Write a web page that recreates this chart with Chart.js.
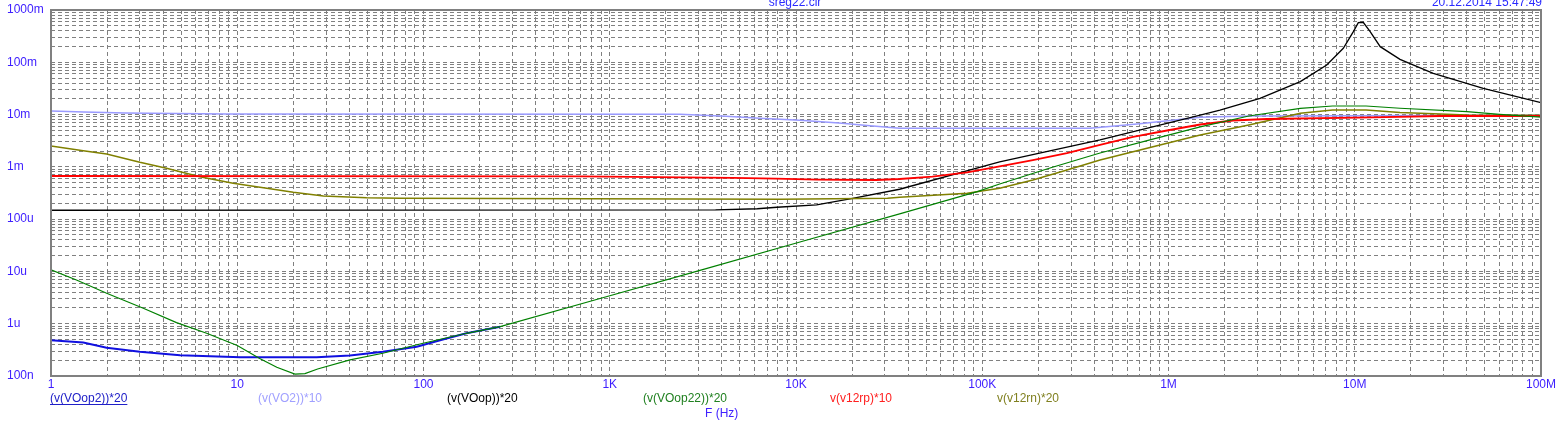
<!DOCTYPE html>
<html>
<head>
<meta charset="utf-8">
<script src="https://cdn.jsdelivr.net/npm/chart.js@4.4.1/dist/chart.umd.min.js"></script>
<style>
  html, body { margin: 0; padding: 0; background: #fff; }
  canvas { display: block; }
</style>
</head>
<body>
<canvas id="chart" width="1566" height="423"></canvas>
<script>
// axis labels (decades)
const xTickLabels = ['1', '10', '100', '1K', '10K', '100K', '1M', '10M', '100M'];
const yTickLabels = ['100n', '1u', '10u', '100u', '1m', '10m', '100m', '1000m'];

const seriesNames = ['(v(VOop2))*20', '(v(VO2))*10', '(v(VOop))*20', '(v(VOop22))*20', 'v(v12rp)*10', 'v(v12rn)*20'];

// (v(VOop2))*20
const voop2F = [1, 1.49, 1.99, 3.0, 4.93, 10.4, 26.7, 40.3, 60.5, 92, 127, 170, 258];
const voop2V = [483e-9, 435e-9, 348e-9, 292e-9, 249e-9, 229e-9, 229e-9, 247e-9, 292e-9, 364e-9, 500e-9, 656e-9, 877e-9];

// (v(VO2))*10
const vo2F = [1, 1.5, 2.5, 8.8, 2380, 4200, 6400, 10500, 17000, 25000, 36000, 124000, 379000, 700000, 1.48e6, 2.7e6, 1e8];
const vo2V = [11.7e-3, 11.2e-3, 10.7e-3, 10.2e-3, 10.1e-3, 9.3e-3, 8.5e-3, 7.8e-3, 6.9e-3, 6.1e-3, 5.5e-3, 5.5e-3, 5.5e-3, 6.7e-3, 8.9e-3, 9.4e-3, 9.7e-3];

// (v(VOop))*20
const voopF = [1, 3700, 6200, 7900, 12900, 19500, 36000, 124000, 429000, 1.48e6, 1.89e6, 3.1e6, 5.1e6, 7.07e6, 8.68e6, 9.83e6, 10.45e6, 11.1e6, 12.1e6, 13.7e6, 17.5e6, 26.4e6, 49e6, 1e8];
const voopV = [148e-6, 150e-6, 158e-6, 169e-6, 187e-6, 243e-6, 373e-6, 1.24e-3, 3.27e-3, 9.8e-3, 12.2e-3, 20.5e-3, 42.6e-3, 88.7e-3, 185e-3, 385e-3, 572e-3, 582e-3, 385e-3, 199e-3, 114e-3, 61.5e-3, 31.8e-3, 16.9e-3];

// (v(VOop22))*20
const voop22F = [1, 1.37, 1.99, 3.13, 4.72, 6.85, 10, 13.2, 16.3, 20.4, 23.1, 27, 40.3, 60.5, 99.5, 170, 258, 887, 3050, 10500, 36000, 94000, 124000, 231000, 429000, 795000, 1.48e6, 2.7e6, 5.1e6, 7.6e6, 11.5e6, 17.5e6, 40e6, 60e6, 1e8];
const voop22V = [10.7e-6, 6.87e-6, 3.82e-6, 1.97e-6, 1.05e-6, 656e-9, 384e-9, 216e-9, 147e-9, 109e-9, 111e-9, 136e-9, 203e-9, 272e-9, 423e-9, 656e-9, 877e-9, 3.04e-6, 10.5e-6, 36.6e-6, 126e-6, 336e-6, 470e-6, 951e-6, 1.84e-3, 3.27e-3, 5.8e-3, 9.4e-3, 13.1e-3, 14.6e-3, 14.6e-3, 13.2e-3, 11.4e-3, 10.1e-3, 8.9e-3];

// v(v12rp)*10
const v12rpF = [1, 700, 4600, 7800, 13000, 27000, 36000, 54000, 83000, 124000, 187000, 285000, 429000, 645000, 982000, 1.48e6, 2.22e6, 3.38e6, 12.5e6, 28.7e6, 1e8];
const v12rpV = [669e-6, 659e-6, 615e-6, 595e-6, 570e-6, 560e-6, 586e-6, 649e-6, 787e-6, 1.02e-3, 1.35e-3, 1.84e-3, 2.62e-3, 3.73e-3, 4.96e-3, 6.46e-3, 7.7e-3, 8.23e-3, 8.87e-3, 9.4e-3, 9.4e-3];

// v(v12rn)*20
const v12rnF = [1, 1.49, 1.99, 3.0, 4.17, 6.3, 9.5, 14.4, 20, 29, 49.5, 75, 8200, 31000, 36000, 83000, 124000, 187000, 285000, 429000, 645000, 982000, 1.48e6, 2.7e6, 5.1e6, 7.6e6, 11.5e6, 17.5e6, 40e6, 1e8];
const v12rnV = [2.51e-3, 2.04e-3, 1.76e-3, 1.22e-3, 939e-6, 649e-6, 485e-6, 389e-6, 326e-6, 277e-6, 257e-6, 251e-6, 240e-6, 251e-6, 262e-6, 312e-6, 389e-6, 561e-6, 871e-6, 1.35e-3, 1.95e-3, 2.82e-3, 4.07e-3, 6.32e-3, 10.6e-3, 12.2e-3, 12.2e-3, 10.9e-3, 9.8e-3, 9.7e-3];

const FONT = '"Liberation Sans", Arial, sans-serif';
const AXIS_TEXT = '#3f20ff';
const GRID = '#808080';

const pts = (f, v) => f.map((x, i) => ({ x: x, y: v[i] }));

// 1..9 per decade, name only on the decade line
function logTicks(fromExp, toExp, labels) {
    const t = [];
    for (let e = fromExp; e <= toExp; e++) {
        for (let k = 1; k <= 9; k++) {
            if (e === toExp && k > 1) break;
            t.push({ value: k * Math.pow(10, e), name: k === 1 ? labels[e - fromExp] : '' });
        }
    }
    return t;
}

const line = (label, data, color, width, order) => ({
    label, data, borderColor: color, borderWidth: width,
    pointRadius: 0, tension: 0, fill: false, order,
});

const overlay = {
    id: 'overlay',
    afterDraw(chart) {
        const { ctx, chartArea: a } = chart;
        ctx.save();
        ctx.setLineDash([]);
        ctx.strokeStyle = GRID;
        ctx.lineWidth = 2;
        ctx.strokeRect(a.left, a.top, a.right - a.left, a.bottom - a.top);

        ctx.font = '12px ' + FONT;
        ctx.textBaseline = 'alphabetic';
        ctx.fillStyle = '#2a2aff';
        ctx.textAlign = 'center';
        ctx.fillText('sreg22.cir', 795, 6);
        ctx.textAlign = 'right';
        ctx.fillText('20.12.2014 15:47:49', 1542, 6);

        // series names under the axis
        const xs = [50, 258, 447, 643, 830, 997];
        const cols = ['#2020c8', '#a0a0ff', '#000000', '#208020', '#ff2020', '#808020'];
        ctx.textAlign = 'left';
        ctx.textBaseline = 'middle';
        seriesNames.forEach((n, i) => {
            ctx.fillStyle = cols[i];
            ctx.fillText(n, xs[i], 399);
        });
        const w = ctx.measureText(seriesNames[0]).width;
        ctx.strokeStyle = cols[0];
        ctx.lineWidth = 1;
        ctx.beginPath();
        ctx.moveTo(xs[0], 404.5);
        ctx.lineTo(xs[0] + w, 404.5);
        ctx.stroke();

        ctx.fillStyle = AXIS_TEXT;
        ctx.fillText('F (Hz)', 705, 414);
        ctx.restore();
    }
};

new Chart(document.getElementById('chart'), {
    type: 'line',
    data: {
        datasets: [
            line(seriesNames[1], pts(vo2F, vo2V), '#9a9aff', 1.5, 6),
            line(seriesNames[0], pts(voop2F, voop2V), '#1010e0', 2, 5),
            line(seriesNames[2], pts(voopF, voopV), '#000000', 1.3, 4),
            line(seriesNames[5], pts(v12rnF, v12rnV), '#808000', 1.5, 3),
            line(seriesNames[4], pts(v12rpF, v12rpV), '#ff0000', 1.8, 2),
            line(seriesNames[3], pts(voop22F, voop22V), '#008000', 1.2, 1),
        ]
    },
    options: {
        responsive: false,
        animation: false,
        layout: { padding: { left: 7, right: 25, top: 10, bottom: 0 } },
        plugins: {
            legend: { display: false },
            tooltip: { enabled: false },
        },
        scales: {
            x: {
                type: 'logarithmic',
                min: 1,
                max: 1e8,
                afterBuildTicks: (scale) => { scale.ticks = logTicks(0, 8, xTickLabels); },
                afterFit: (scale) => { scale.height = 47; },
                grid: { color: GRID, lineWidth: 1, drawTicks: false },
                border: { display: false, dash: [4, 3] },
                ticks: {
                    autoSkip: false,
                    maxRotation: 0,
                    padding: 1,
                    color: AXIS_TEXT,
                    font: { family: FONT, size: 12 },
                    callback: (value, i, ticks) => ticks[i].name,
                },
            },
            y: {
                type: 'logarithmic',
                min: 1e-7,
                max: 1,
                afterBuildTicks: (scale) => { scale.ticks = logTicks(-7, 0, yTickLabels); },
                afterFit: (scale) => { scale.width = 44; },
                grid: { color: GRID, lineWidth: 1, drawTicks: false },
                border: { display: false, dash: [4, 3] },
                ticks: {
                    autoSkip: false,
                    crossAlign: 'far',
                    padding: 0,
                    color: AXIS_TEXT,
                    font: { family: FONT, size: 12 },
                    callback: (value, i, ticks) => ticks[i].name,
                },
            },
        },
    },
    plugins: [overlay],
});
</script>
</body>
</html>
